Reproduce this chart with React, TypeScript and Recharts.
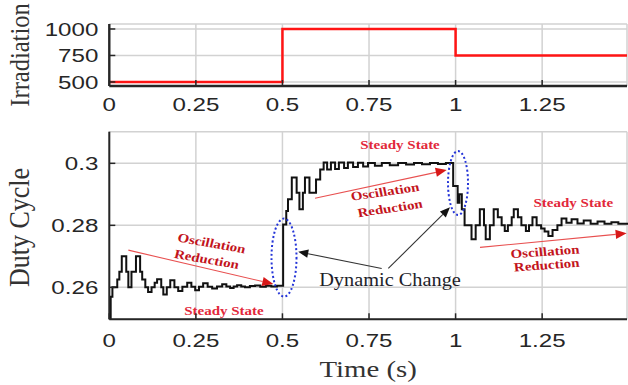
import { CartesianGrid, Line, LineChart, ReferenceDot, ReferenceLine, XAxis, YAxis } from "recharts";

// time axis
const xTicks = [0, 0.25, 0.5, 0.75, 1, 1.25];
const xMax = 1.495;

// irradiation profile (W/m2)
const irrTime = [0, 0.5, 1, 1.495];
const irrValue = [500, 1000, 750, 750];
const irrTicks = [500, 750, 1000];

// duty cycle
const dutyTime = [
  0, 0.004, 0.009, 0.023, 0.029, 0.036, 0.049, 0.055, 0.064, 0.077, 0.089, 0.095, 0.104, 0.112, 0.122, 0.131,
  0.138, 0.15, 0.156, 0.166, 0.176, 0.188, 0.199, 0.211, 0.225, 0.237, 0.248, 0.259, 0.271, 0.284, 0.297, 0.311,
  0.326, 0.338, 0.349, 0.359, 0.369, 0.381, 0.392, 0.406, 0.421, 0.436, 0.452, 0.468, 0.484,
  0.502, 0.511, 0.516, 0.527, 0.541, 0.549, 0.559, 0.565, 0.578, 0.597, 0.609, 0.619, 0.629, 0.64, 0.652, 0.663,
  0.678, 0.689, 0.704, 0.718, 0.733, 0.747, 0.767, 0.787, 0.81, 0.834, 0.857, 0.88, 0.903, 0.926, 0.949, 0.972,
  0.993, 1.006, 1.011, 1.018, 1.026, 1.046, 1.058, 1.07, 1.082, 1.087, 1.099, 1.11, 1.122, 1.133, 1.142, 1.151,
  1.162, 1.168, 1.18, 1.19, 1.203, 1.212, 1.222, 1.234, 1.247, 1.257, 1.268, 1.28, 1.294, 1.306, 1.32, 1.335,
  1.352, 1.37, 1.39, 1.41, 1.43, 1.45, 1.47, 1.495,
];
const dutyValue = [
  0.25, 0.257, 0.26, 0.2625, 0.265, 0.27, 0.265, 0.26, 0.265, 0.27, 0.265, 0.2625, 0.26, 0.2585, 0.26, 0.2615,
  0.2626, 0.26, 0.2577, 0.26, 0.2623, 0.26, 0.2588, 0.2602, 0.2615, 0.2602, 0.2591, 0.2602, 0.2613, 0.2602, 0.2596, 0.2603,
  0.261, 0.2603, 0.2598, 0.2603, 0.2607, 0.2603, 0.26, 0.2604, 0.2606, 0.2602, 0.2605, 0.2603, 0.2605,
  0.2803, 0.2846, 0.2884, 0.2954, 0.2905, 0.2852, 0.2905, 0.2954, 0.2905, 0.2948, 0.298, 0.3003, 0.298, 0.3003, 0.2982, 0.3003,
  0.2985, 0.3003, 0.2988, 0.3002, 0.299, 0.3001, 0.2992, 0.3001, 0.2994, 0.3001, 0.2996, 0.3001, 0.2997, 0.3001, 0.2998, 0.3001,
  0.2927, 0.2873, 0.29, 0.2852, 0.28, 0.2755, 0.28, 0.2852, 0.28, 0.2755, 0.28, 0.2852, 0.2826, 0.28, 0.2782, 0.28,
  0.2826, 0.2852, 0.2826, 0.28, 0.2782, 0.28, 0.2826, 0.28, 0.279, 0.278, 0.2766, 0.2785, 0.28, 0.2822, 0.2808, 0.282,
  0.2806, 0.2816, 0.2805, 0.2812, 0.2805, 0.281, 0.2805, 0.2808,
];
const dutyTicks = [0.26, 0.28, 0.3];

// annotations, in data units
const redArrows = [
  { from: [0.055, 0.272], to: [0.4736, 0.26106] },
  { from: [0.594, 0.28871], to: [0.9743, 0.29784] },
  { from: [1.0705, 0.2729], to: [1.494, 0.27742] },
];
const blackArrows = [
  { from: [0.7866, 0.2661], to: [0.5456, 0.27148] },
  { from: [0.8057, 0.2661], to: [0.9838, 0.2858] },
];
const ellipses = [
  { t: 0.5045, d: 0.2696, rx: 12.5, ry: 39 },
  { t: 1.007, d: 0.29365, rx: 10, ry: 32 },
];
const notes = [
  { t: 0.2957, d: 0.27419, text: "Oscillation", rot: 12, kind: "osc" },
  { t: 0.2813, d: 0.26903, text: "Reduction", rot: 12, kind: "osc" },
  { t: 0.3312, d: 0.25245, text: "Steady State", rot: 0, kind: "ss" },
  { t: 0.8395, d: 0.3059, text: "Steady State", rot: 0, kind: "ss" },
  { t: 0.7961, d: 0.29084, text: "Oscillation", rot: -10, kind: "osc" },
  { t: 0.8106, d: 0.28548, text: "Reduction", rot: -10, kind: "osc" },
  { t: 0.8106, d: 0.26235, text: "Dynamic Change", rot: 0, kind: "dyn" },
  { t: 1.3399, d: 0.2871, text: "Steady State", rot: 0, kind: "ss" },
  { t: 1.2582, d: 0.27148, text: "Oscillation", rot: -5, kind: "osc" },
  { t: 1.2631, d: 0.26719, text: "Reduction", rot: -5, kind: "osc" },
];

const irrData = irrTime.map((t, i) => ({ t, v: irrValue[i] }));
const dutyData = dutyTime.map((t, i) => ({ t, d: dutyValue[i] }));

const SX = 1.27; // the original figure is stretched horizontally
const sans = "'Liberation Sans', Arial, sans-serif";
const serif = "'Liberation Serif', 'Times New Roman', serif";
const ink = "#262626";

function BottomTick({ x, y, payload, off }: any) {
  return (
    <g>
      <line x1={x} y1={y} x2={x} y2={y - 6} stroke={ink} strokeWidth={1.5} />
      <text transform={`translate(${x},${y + off}) scale(${SX},1)`} textAnchor="middle" fontFamily={sans} fontSize={19} fill={ink}>
        {String(payload.value)}
      </text>
    </g>
  );
}

function LeftTick({ x, y, payload }: any) {
  return (
    <g>
      <line x1={x} y1={y} x2={x + 6} y2={y} stroke={ink} strokeWidth={1.5} />
      <text transform={`translate(${x - 11},${y + 7}) scale(${SX},1)`} textAnchor="end" fontFamily={sans} fontSize={19} fill={ink}>
        {String(payload.value)}
      </text>
    </g>
  );
}

const TopTick = ({ x, y }: any) => <line x1={x} y1={y} x2={x} y2={y + 6} stroke={ink} strokeWidth={1.5} />;
const RightTick = ({ x, y }: any) => <line x1={x} y1={y} x2={x - 6} y2={y} stroke={ink} strokeWidth={1.5} />;

function yLabel(text: string, shift: number, size: number) {
  return (props: any) => {
    const vb = props.viewBox;
    const cy = vb.y + vb.height / 2 + shift;
    return (
      <text transform={`translate(${vb.x - 20},${cy}) scale(1.15,1) rotate(-90)`} textAnchor="middle" fontFamily={serif} fontSize={size} fill="#333">
        {text}
      </text>
    );
  };
}

function Arrow({ x1, y1, x2, y2, head, fill, stroke }: any) {
  const a = Math.atan2(y2 - y1, x2 - x1);
  const bx = x2 - head * Math.cos(a);
  const by = y2 - head * Math.sin(a);
  const w = head * 0.42;
  const px = -Math.sin(a) * w;
  const py = Math.cos(a) * w;
  return (
    <g>
      <line x1={x1} y1={y1} x2={bx} y2={by} stroke={stroke} strokeWidth={1.1} />
      <polygon points={`${x2},${y2} ${bx + px},${by + py} ${bx - px},${by - py}`} fill={fill} />
    </g>
  );
}

function Note({ cx, cy, text, rot, kind }: any) {
  const style =
    kind === "dyn"
      ? { fontSize: 18, fontWeight: 400, fill: "#1e1e2a", sx: 1.13 }
      : kind === "ss"
        ? { fontSize: 12.5, fontWeight: 700, fill: "#e2283a", sx: 1.2 }
        : { fontSize: 12.5, fontWeight: 700, fill: "#c3141c", sx: 1.2 };
  return (
    <text
      transform={`translate(${cx},${cy}) scale(${style.sx},1) rotate(${rot})`}
      textAnchor="middle"
      dominantBaseline="central"
      fontFamily={serif}
      fontSize={style.fontSize}
      fontWeight={style.fontWeight}
      fill={style.fill}
    >
      {text}
    </text>
  );
}

export default function App() {
  return (
    <div style={{ position: "absolute", left: 0, top: 0, width: 628, height: 385, overflow: "hidden", background: "#fff" }}>
      <div style={{ position: "absolute", left: 0, top: 0 }}>
        <LineChart width={628} height={120} data={irrData} margin={{ top: 24, right: 1, bottom: 4, left: 49.3 }}>
          <CartesianGrid stroke="#d2d2d2" strokeWidth={1.5} />
          <XAxis dataKey="t" type="number" domain={[0, xMax]} ticks={xTicks} interval={0} height={30} tickSize={0} tickMargin={0}
            axisLine={{ stroke: ink, strokeWidth: 2.4 }} tick={(p: any) => <BottomTick {...p} off={25} />} />
          <XAxis xAxisId="top" orientation="top" dataKey="t" type="number" domain={[0, xMax]} ticks={xTicks} interval={0} height={0}
            tickSize={0} tickMargin={0} axisLine={{ stroke: ink, strokeWidth: 2.4 }} tick={(p: any) => <TopTick {...p} />} />
          <YAxis type="number" domain={[462, 1047]} ticks={irrTicks} interval={0} width={60} tickSize={0} tickMargin={0}
            axisLine={{ stroke: ink, strokeWidth: 2.4 }} tick={(p: any) => <LeftTick {...p} />} label={yLabel("Irradiation", 0, 24.5)} />
          <YAxis yAxisId="r" orientation="right" type="number" domain={[462, 1047]} ticks={irrTicks} interval={0} width={0}
            tickSize={0} tickMargin={0} axisLine={{ stroke: ink, strokeWidth: 2.4 }} tick={(p: any) => <RightTick {...p} />} />
          <Line dataKey="v" type="stepAfter" stroke="#ff1414" strokeWidth={2.5} dot={false} isAnimationActive={false} />
        </LineChart>
      </div>
      <div style={{ position: "absolute", left: 0, top: 120 }}>
        <LineChart width={628} height={265} data={dutyData} margin={{ top: 11.7, right: 1, bottom: 5.7, left: 49.3 }}>
          <CartesianGrid stroke="#d2d2d2" strokeWidth={1.5} />
          <XAxis dataKey="t" type="number" domain={[0, xMax]} ticks={xTicks} interval={0} height={60} tickSize={0} tickMargin={0}
            axisLine={{ stroke: ink, strokeWidth: 2 }} tick={(p: any) => <BottomTick {...p} off={28} />}
            label={(props: any) => {
              const vb = props.viewBox;
              return (
                <text transform={`translate(${vb.x + vb.width / 2},${vb.y + 58}) scale(1.2,1)`} textAnchor="middle" fontFamily={serif} fontSize={24} fill="#333">
                  Time (s)
                </text>
              );
            }} />
          <XAxis xAxisId="top" orientation="top" dataKey="t" type="number" domain={[0, xMax]} ticks={xTicks} interval={0} height={0}
            tickSize={0} tickMargin={0} axisLine={{ stroke: ink, strokeWidth: 2 }} tick={(p: any) => <TopTick {...p} />} />
          <YAxis type="number" domain={[0.2497, 0.3102]} ticks={dutyTicks} interval={0} width={60} tickSize={0} tickMargin={0}
            axisLine={{ stroke: ink, strokeWidth: 2 }} tick={(p: any) => <LeftTick {...p} />} label={yLabel("Duty Cycle", 2, 26)} />
          <YAxis yAxisId="r" orientation="right" type="number" domain={[0.2497, 0.3102]} ticks={dutyTicks} interval={0} width={0}
            tickSize={0} tickMargin={0} axisLine={{ stroke: ink, strokeWidth: 2 }} tick={(p: any) => <RightTick {...p} />} />
          <Line dataKey="d" type="stepAfter" stroke="#111" strokeWidth={2} dot={false} isAnimationActive={false} />
          {ellipses.map((e, i) => (
            <ReferenceDot key={`e${i}`} x={e.t} y={e.d} r={1} ifOverflow="visible"
              shape={(p: any) => (
                <ellipse cx={p.cx} cy={p.cy} rx={e.rx} ry={e.ry} fill="none" stroke="#2535d8" strokeWidth={2} strokeDasharray="2 2.4" />
              )} />
          ))}
          {redArrows.map((a, i) => (
            <ReferenceLine key={`ra${i}`} ifOverflow="visible"
              segment={[{ x: a.from[0], y: a.from[1] }, { x: a.to[0], y: a.to[1] }]}
              shape={(p: any) => <Arrow {...p} head={11} fill="#d81818" stroke="#e85050" />} />
          ))}
          {blackArrows.map((a, i) => (
            <ReferenceLine key={`ba${i}`} ifOverflow="visible"
              segment={[{ x: a.from[0], y: a.from[1] }, { x: a.to[0], y: a.to[1] }]}
              shape={(p: any) => <Arrow {...p} head={10} fill="#111" stroke="#333" />} />
          ))}
          {notes.map((n, i) => (
            <ReferenceDot key={`n${i}`} x={n.t} y={n.d} r={1} ifOverflow="visible"
              shape={(p: any) => <Note cx={p.cx} cy={p.cy} text={n.text} rot={n.rot} kind={n.kind} />} />
          ))}
        </LineChart>
      </div>
    </div>
  );
}
